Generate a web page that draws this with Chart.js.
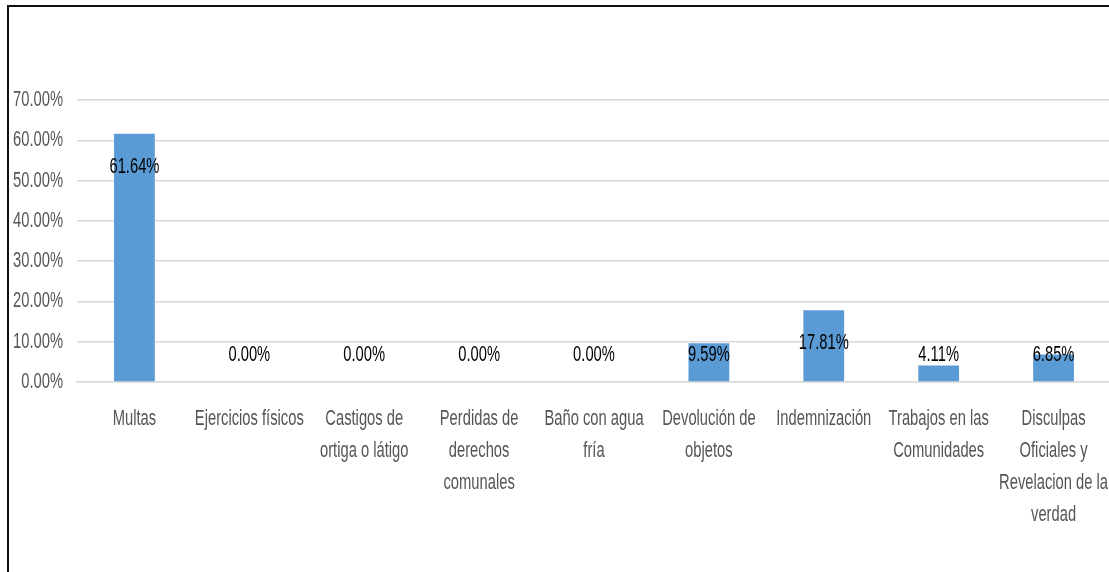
<!DOCTYPE html>
<html>
<head>
<meta charset="utf-8">
<script src="https://cdn.jsdelivr.net/npm/chart.js@4/dist/chart.umd.min.js"></script>
<style>
  html, body { margin: 0; padding: 0; background: #fff; overflow: hidden; width: 1109px; height: 572px; }
  #wrap { position: absolute; left: 0; top: 0; width: 1111px; height: 572px; }
  #frame { position: absolute; left: 7px; top: 5px; width: 1200px; height: 700px; border-top: 2px solid #111; border-left: 2px solid #111; pointer-events: none; }
</style>
</head>
<body>
<div id="wrap"><canvas id="c" width="1111" height="572"></canvas></div>
<div id="frame"></div>
<script>
const categories = [
  "Multas",
  "Ejercicios físicos",
  ["Castigos de", "ortiga o látigo"],
  ["Perdidas de", "derechos", "comunales"],
  ["Baño con agua", "fría"],
  ["Devolución de", "objetos"],
  "Indemnización",
  ["Trabajos en las", "Comunidades"],
  ["Disculpas", "Oficiales y", "Revelacion de la", "verdad"]
];
const values = [61.64, 0.00, 0.00, 0.00, 0.00, 9.59, 17.81, 4.11, 6.85];
const yTicks = [0, 10, 20, 30, 40, 50, 60, 70];

const FONT = "'Liberation Sans', Arial, sans-serif";
const TEXT_SX = 0.67; // horizontal condensing of all text

const canvas = document.getElementById('c');
const ctx0 = canvas.getContext('2d');
const origFillText = ctx0.fillText;
ctx0.fillText = function (text, x, y, maxW) {
  this.save();
  this.translate(x, y);
  this.scale(TEXT_SX, 1);
  origFillText.call(this, text, 0, 0);
  this.restore();
};

const labelPlugin = {
  id: 'barLabels',
  afterDatasetsDraw(chart) {
    const ctx = chart.ctx;
    const meta = chart.getDatasetMeta(0);
    const y = chart.scales.y;
    const zero = y.getPixelForValue(0);
    ctx.save();
    ctx.font = "22px " + FONT;
    ctx.fillStyle = '#000';
    ctx.textAlign = 'center';
    ctx.textBaseline = 'middle';
    meta.data.forEach((bar, i) => {
      const v = values[i];
      const top = y.getPixelForValue(v);
      const ty = Math.min(top + 33, zero - 27);
      ctx.fillText(v.toFixed(2) + '%', bar.x, ty);
    });
    ctx.restore();
  }
};

new Chart(canvas, {
  type: 'bar',
  data: {
    labels: categories,
    datasets: [{
      data: values,
      backgroundColor: '#5B9BD5',
      borderWidth: 0,
      barPercentage: 0.355,
      categoryPercentage: 1.0
    }]
  },
  options: {
    responsive: false,
    animation: false,
    devicePixelRatio: 1,
    layout: { padding: { top: 100, left: 0, right: 0, bottom: 0 } },
    plugins: { legend: { display: false }, tooltip: { enabled: false } },
    scales: {
      x: {
        grid: { display: false, drawTicks: false },
        border: { display: true, color: '#d9d9d9', width: 1.5 },
        ticks: {
          color: '#555555',
          font: { family: FONT, size: 22, lineHeight: 1.45 },
          padding: 21,
          maxRotation: 0,
          autoSkip: false
        },
        afterFit(s) { s.height = 190; s.paddingLeft = 0; s.paddingRight = 0; }
      },
      y: {
        min: 0,
        max: 70,
        afterBuildTicks(s) { s.ticks = yTicks.map(v => ({ value: v })); },
        grid: { color: '#d9d9d9', lineWidth: 1.5, drawTicks: false },
        border: { display: false },
        ticks: {
          color: '#555555',
          font: { family: FONT, size: 22 },
          padding: 14,
          callback: v => Number(v).toFixed(2) + '%'
        },
        afterFit(s) { s.width = 77; }
      }
    }
  },
  plugins: [labelPlugin]
});
</script>
</body>
</html>
